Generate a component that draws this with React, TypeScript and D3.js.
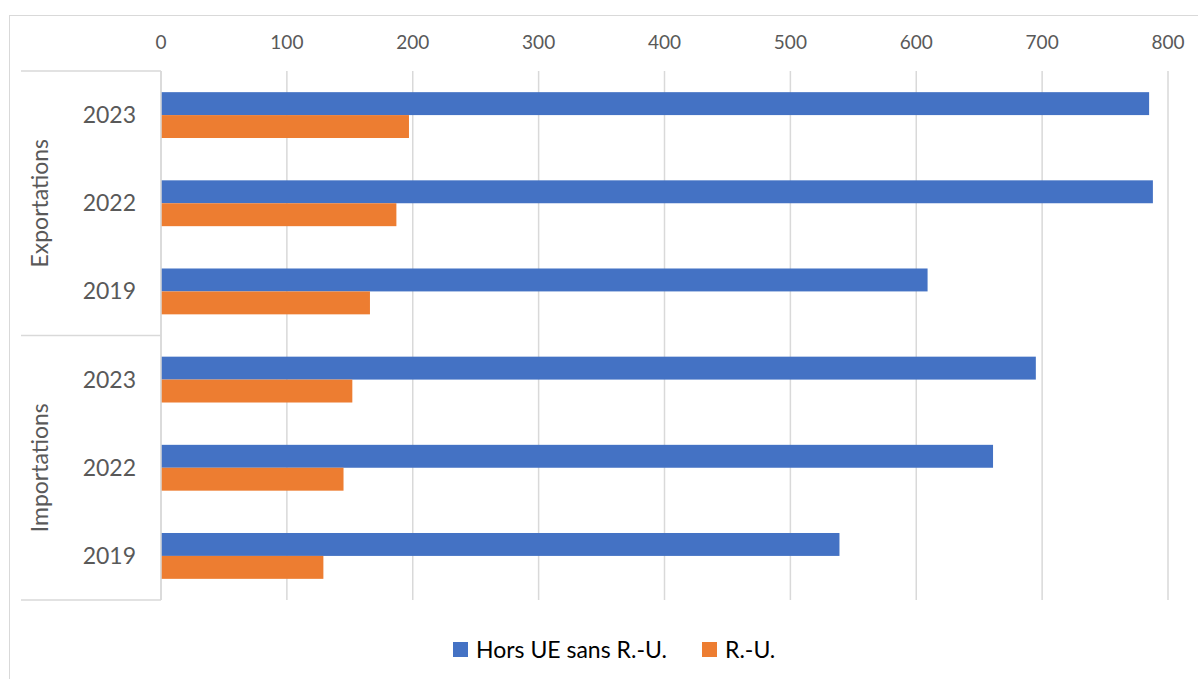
import React from 'react';
import * as d3 from 'd3';

const groups = ['Exportations', 'Importations'];
const years = ['2023', '2022', '2019'];
const seriesNames = ['Hors UE sans R.-U.', 'R.-U.'];
const horsUE = [785, 788, 609, 695, 661, 539];
const ru = [197, 187, 166, 152, 145, 129];
const ticks = [0, 100, 200, 300, 400, 500, 600, 700, 800];
const colors = ['#4472C4', '#ED7D31'];

const W = 1198;
const H = 679;
const font = 'Lato, "Open Sans", sans-serif';

const App = () => {
    const rows = groups.flatMap(g => years.map(y => g + ' ' + y));
    const x = d3.scaleLinear().domain([0, 800]).range([161, 1168]);
    const y = d3.scaleBand().domain(rows).range([71, 600]).paddingInner(0.48).paddingOuter(0.24);
    const sub = d3.scaleBand().domain(seriesNames).range([0, y.bandwidth()]);
    const values = [horsUE, ru];
    const step = y.step();
    const top = 71;

    return (
        <svg width={W} height={H} style={{ position: 'absolute', left: 0, top: 0 }}>
            <rect x={0} y={0} width={W} height={H} fill="#fff" />
            <rect x={9.5} y={15.5} width={W + 20} height={H + 20} fill="none" stroke="#d9d9d9" />

            {ticks.map(t => (
                <g key={t}>
                    <line x1={x(t)} x2={x(t)} y1={top} y2={600} stroke="#d9d9d9" strokeWidth={1.5} />
                    <text x={x(t)} y={49} textAnchor="middle" fontFamily={font} fontSize={19} fill="#595959">{t}</text>
                </g>
            ))}

            {[0, 3, 6].map(i => (
                <line key={i} x1={21} x2={161} y1={top + i * step} y2={top + i * step} stroke="#d9d9d9" strokeWidth={1.5} />
            ))}

            {rows.map((r, i) => (
                <g key={r}>
                    {values.map((vals, s) => (
                        <rect key={s} x={x(0)} y={(y(r) as number) + (sub(seriesNames[s]) as number)}
                            width={x(vals[i]) - x(0)} height={sub.bandwidth()} fill={colors[s]} />
                    ))}
                    <text x={136} y={(y(r) as number) + y.bandwidth() / 2 + 8} textAnchor="end"
                        fontFamily={font} fontSize={23} fill="#595959">{years[i % 3]}</text>
                </g>
            ))}

            {groups.map((g, gi) => {
                const cy = top + (gi * 3 + 1.5) * step;
                return (
                    <text key={g} transform={`translate(48,${cy}) rotate(-90)`} textAnchor="middle"
                        fontFamily={font} fontSize={23} fill="#595959">{g}</text>
                );
            })}

            <line x1={161} x2={161} y1={top} y2={600} stroke="#d9d9d9" strokeWidth={1.5} />

            <g fontFamily={font} fontSize={23} fill="#000">
                <rect x={453} y={642} width={15} height={15} fill={colors[0]} />
                <text x={476} y={658}>{seriesNames[0]}</text>
                <rect x={702} y={642} width={15} height={15} fill={colors[1]} />
                <text x={725} y={658}>{seriesNames[1]}</text>
            </g>
        </svg>
    );
};

export default App;
